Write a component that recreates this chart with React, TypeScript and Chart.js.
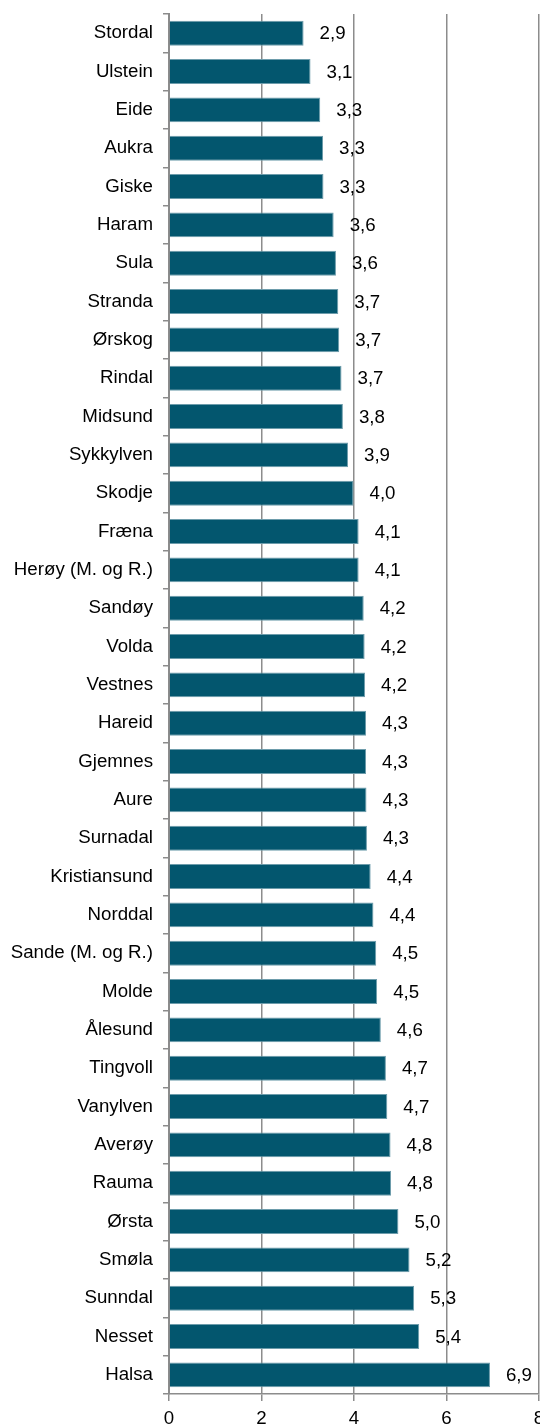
import React, { useEffect, useRef } from "react";
import { Chart, registerables } from "chart.js";

Chart.register(...registerables);

const categories = [
  "Stordal", "Ulstein", "Eide", "Aukra", "Giske", "Haram", "Sula", "Stranda", "Ørskog", "Rindal",
  "Midsund", "Sykkylven", "Skodje", "Fræna", "Herøy (M. og R.)", "Sandøy", "Volda", "Vestnes", "Hareid", "Gjemnes",
  "Aure", "Surnadal", "Kristiansund", "Norddal", "Sande (M. og R.)", "Molde", "Ålesund", "Tingvoll", "Vanylven", "Averøy",
  "Rauma", "Ørsta", "Smøla", "Sunndal", "Nesset", "Halsa",
];

const values = [
  2.91, 3.06, 3.27, 3.33, 3.34, 3.56, 3.61, 3.66, 3.68, 3.73,
  3.76, 3.87, 3.99, 4.1, 4.1, 4.21, 4.23, 4.24, 4.26, 4.26,
  4.27, 4.28, 4.36, 4.42, 4.48, 4.5, 4.58, 4.69, 4.72, 4.79,
  4.8, 4.96, 5.2, 5.3, 5.41, 6.94,
];

const xTickStep = 2;
const xMin = 0;
const xMax = 8;

const FONT = '"Liberation Sans", Arial, sans-serif';
const FONT_SIZE = 18.7;
const CANVAS_W = 560;
const CANVAS_H = 1445;

const valueLabels = {
  id: "valueLabels",
  afterDatasetsDraw(chart: any) {
    const ctx = chart.ctx;
    const meta = chart.getDatasetMeta(0);
    ctx.save();
    ctx.font = `${FONT_SIZE}px ${FONT}`;
    ctx.fillStyle = "#000";
    ctx.textAlign = "left";
    ctx.textBaseline = "middle";
    meta.data.forEach((bar: any, i: number) => {
      const v = chart.data.datasets[0].data[i] as number;
      const txt = v.toFixed(1).replace(".", ",");
      ctx.fillText(txt, bar.x + 16, bar.y + 1);
    });
    ctx.restore();
  },
};

export default function App() {
  const ref = useRef<HTMLCanvasElement | null>(null);

  useEffect(() => {
    document.body.style.margin = "0";
    if (!ref.current) return;
    const chart = new Chart(ref.current, {
      type: "bar",
      data: {
        labels: categories,
        datasets: [
          {
            data: values,
            backgroundColor: "#03566E",
            borderColor: "#6d9cab",
            borderWidth: 1,
            barPercentage: 0.65,
            categoryPercentage: 1,
          },
        ],
      },
      options: {
        indexAxis: "y",
        animation: false,
        responsive: false,
        devicePixelRatio: 1,
        layout: { padding: { top: 14, right: 21, left: 0, bottom: 0 } },
        plugins: {
          legend: { display: false },
          tooltip: { enabled: false },
        },
        scales: {
          x: {
            min: xMin,
            max: xMax,
            afterFit: (s: any) => {
              s.height = CANVAS_H - 1394;
            },
            ticks: {
              stepSize: xTickStep,
              color: "#000",
              font: { family: FONT, size: FONT_SIZE },
              padding: 7,
            },
            grid: {
              color: "#8c8c8c",
              lineWidth: 1.5,
              tickLength: 7,
            },
            border: { color: "#8c8c8c", width: 1.5 },
          },
          y: {
            afterFit: (s: any) => {
              s.width = 169;
              s.paddingTop = 0;
              s.paddingBottom = 0;
            },
            ticks: {
              autoSkip: false,
              color: "#000",
              font: { family: FONT, size: FONT_SIZE },
              padding: 10,
            },
            grid: {
              drawOnChartArea: false,
              drawTicks: true,
              tickLength: 6,
              offset: true,
              color: "#8c8c8c",
              lineWidth: 1.5,
            },
            border: { color: "#8c8c8c", width: 2 },
          },
        },
      },
      plugins: [valueLabels],
    });
    return () => chart.destroy();
  }, []);

  return (
    <div
      style={{
        position: "fixed",
        left: 0,
        top: 0,
        width: 540,
        height: 1425,
        overflow: "hidden",
        background: "#fff",
      }}
    >
      <canvas
        ref={ref}
        width={CANVAS_W}
        height={CANVAS_H}
        style={{ position: "absolute", left: 0, top: 0, width: CANVAS_W, height: CANVAS_H }}
      />
    </div>
  );
}
